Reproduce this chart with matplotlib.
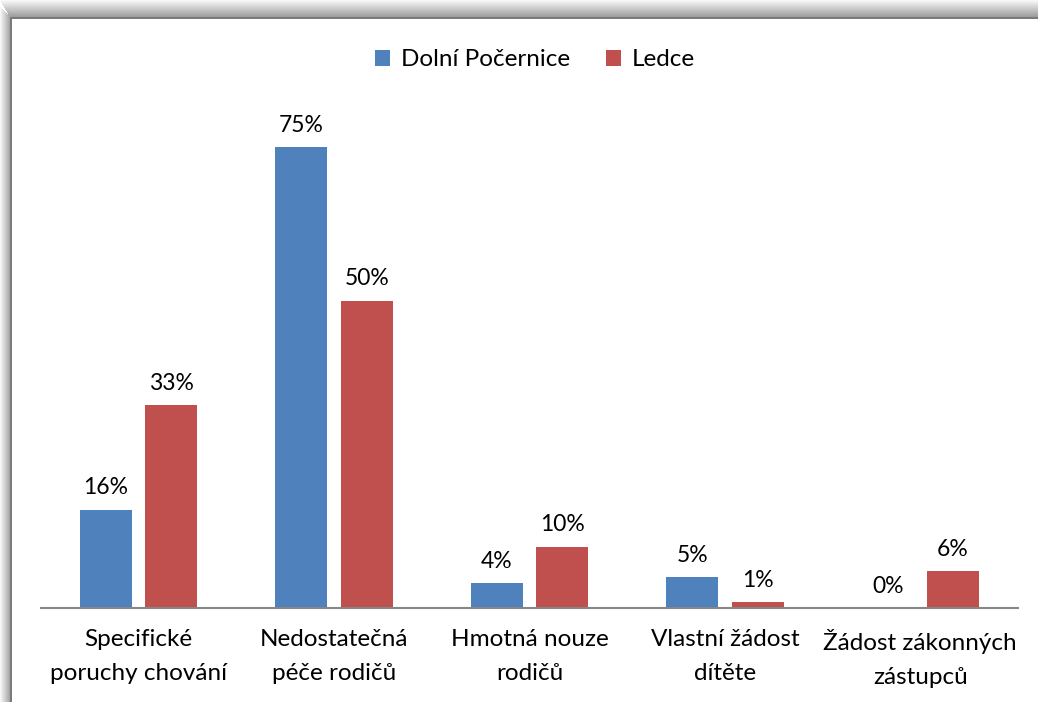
import matplotlib.pyplot as plt
from matplotlib.patches import Rectangle
import numpy as np

# Daten
categories = ["Specifické\nporuchy chování", "Nedostatečná\npéče rodičů", "Hmotná nouze\nrodičů",
              "Vlastní žádost\ndítěte", "Žádost zákonných\nzástupců"]
dolni_pocernice = [16, 75, 4, 5, 0]
ledce = [33, 50, 10, 1, 6]
series_names = ["Dolní Počernice", "Ledce"]

BLUE = '#4F81BD'
RED = '#C0504D'
FONT = ['Lato', 'DejaVu Sans']
plt.rcParams['font.family'] = FONT

fig = plt.figure(figsize=(10.38, 7.02), dpi=100)

# Rahmen mit Schatten (Excel-Stil)
bg = fig.add_axes([0, 0, 1, 1])
bg.set_xlim(0, 1038)
bg.set_ylim(702, 0)
bg.axis('off')
for i in range(12):
    g = 0.97 - 0.035 * i
    bg.add_patch(Rectangle((i, i + 7), 1.2, 702, color=str(g), lw=0))
for i in range(19):
    g = 0.97 - 0.022 * i
    bg.add_patch(Rectangle((i * 0.6, i), 1100, 1.2, color=str(g), lw=0))
bg.add_patch(Rectangle((10, 17), 1100, 702, facecolor='#7a7a7a', lw=0))
bg.add_patch(Rectangle((12, 19), 1100, 702, facecolor='white', lw=0))

# Diagramm
ax = fig.add_axes([41 / 1038, 94 / 702, 977 / 1038, 492 / 702])
ax.patch.set_alpha(0)
x = np.arange(len(categories))
w = 0.266
off = 0.167
b1 = ax.bar(x - off, dolni_pocernice, w, color=BLUE, label=series_names[0])
b2 = ax.bar(x + off, ledce, w, color=RED, label=series_names[1])

for bars, vals in [(b1, dolni_pocernice), (b2, ledce)]:
    for b, v in zip(bars, vals):
        ax.annotate(f"{v}%", (b.get_x() + b.get_width() / 2, v), xytext=(0, 8),
                    textcoords='offset points', ha='center', va='bottom', fontsize=16.5)

ax.set_xlim(-0.5, len(categories) - 0.5)
ax.set_ylim(0, 80)
ax.set_yticks([])
ax.set_xticks(x)
ax.set_xticklabels(categories, fontsize=17.5, linespacing=1.75)
ax.tick_params(axis='x', length=0, pad=15)
for s in ['top', 'right', 'left']:
    ax.spines[s].set_visible(False)
ax.spines['bottom'].set_color('#868686')
ax.spines['bottom'].set_linewidth(1.5)

fig.legend(loc='center', bbox_to_anchor=(535 / 1038, 1 - 60 / 702), ncol=2, frameon=False,
           fontsize=17.5, handlelength=0.6, handleheight=0.6, handletextpad=0.45,
           columnspacing=1.5)

fig.savefig('out.png', dpi=100)
